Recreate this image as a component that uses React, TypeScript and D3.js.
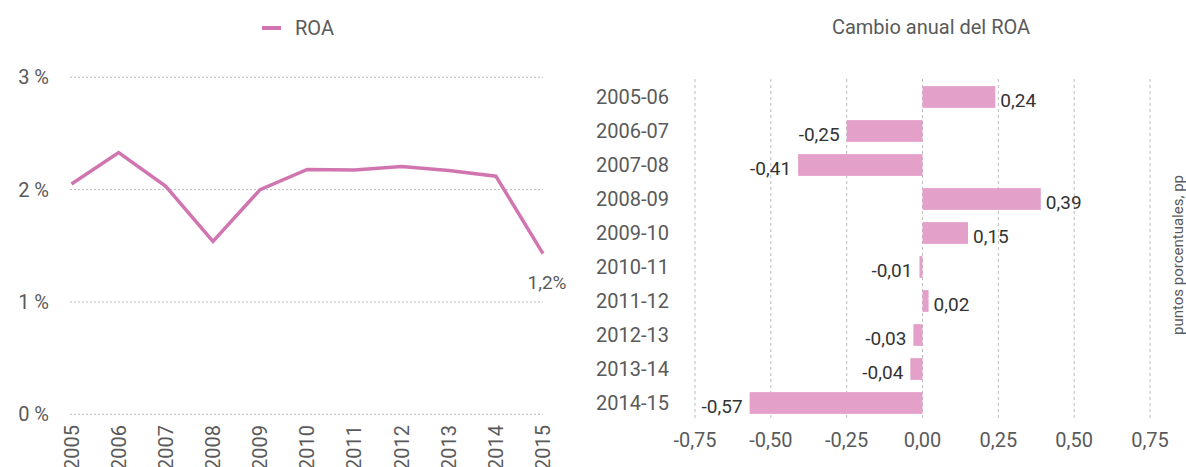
import React from "react";
import * as d3 from "d3";

const years = ["2005", "2006", "2007", "2008", "2009", "2010", "2011", "2012", "2013", "2014", "2015"];
const roa = [2.05, 2.33, 2.03, 1.54, 2.0, 2.18, 2.175, 2.205, 2.17, 2.12, 1.43];
const yTicks = [0, 1, 2, 3];
const lastLabel = "1,2%";

const periods = ["2005-06", "2006-07", "2007-08", "2008-09", "2009-10", "2010-11", "2011-12", "2012-13", "2013-14", "2014-15"];
const changes = [0.24, -0.25, -0.41, 0.39, 0.15, -0.01, 0.02, -0.03, -0.04, -0.57];
const xTicks = [-0.75, -0.5, -0.25, 0, 0.25, 0.5, 0.75];

const FONT = "Roboto, 'DejaVu Sans', sans-serif";
const LINE = "#d175b0";
const BAR = "#e3a0c8";
const GREY = "#5a5a5a";

const fmt = (v: number, d: number) => {
  const s = Math.abs(v).toFixed(d).replace(".", ",");
  return (v < 0 ? "-" : "") + s;
};

export default function App() {
  const xL = d3.scalePoint<string>().domain(years).range([71.5, 543]);
  const yL = d3.scaleLinear().domain([0, 3]).range([414.3, 77.3]);
  const line = d3
    .line<number>()
    .x((_, i) => xL(years[i]) as number)
    .y((d) => yL(d));

  const xR = d3.scaleLinear().domain([-0.75, 0.75]).range([695, 1150]);
  const yR = d3.scaleBand<string>().domain(periods).range([80, 420]).paddingInner(0.36).paddingOuter(0.18);

  return (
    <svg
      width={1186}
      height={467}
      style={{ position: "absolute", left: 0, top: 0, background: "#fff" }}
      fontFamily={FONT}
    >
      {/* Left chart legend */}
      <line x1={262} x2={281} y1={28} y2={28} stroke={LINE} strokeWidth={4} />
      <text x={295} y={28} dominantBaseline="central" fontSize={20} fill={GREY}>
        ROA
      </text>

      {/* Left gridlines */}
      {yTicks.map((t) => (
        <g key={t}>
          <line x1={70} x2={543} y1={yL(t)} y2={yL(t)} stroke="#bbb" strokeWidth={1} strokeDasharray="2,2" />
          <text x={49} y={yL(t)} textAnchor="end" dominantBaseline="central" fontSize={20} fill={GREY}>
            {t} %
          </text>
        </g>
      ))}
      {years.map((y) => (
        <text
          key={y}
          transform={`translate(${xL(y)},425) rotate(-90)`}
          textAnchor="end"
          dominantBaseline="central"
          fontSize={20}
          fill={GREY}
        >
          {y}
        </text>
      ))}
      <path d={line(roa) || ""} fill="none" stroke={LINE} strokeWidth={3.5} strokeLinejoin="miter" />
      <text
        x={(xL(years[years.length - 1]) as number) + 4}
        y={282}
        textAnchor="middle"
        dominantBaseline="central"
        fontSize={19}
        fill={GREY}
      >
        {lastLabel}
      </text>

      {/* Right chart */}
      <text x={931} y={27} textAnchor="middle" dominantBaseline="central" fontSize={20} fill={GREY}>
        Cambio anual del ROA
      </text>
      {xTicks.map((t) => (
        <g key={t}>
          <line x1={xR(t)} x2={xR(t)} y1={79} y2={420} stroke="#bbb" strokeWidth={1} strokeDasharray="3,3" />
          <text x={xR(t)} y={440} textAnchor="middle" dominantBaseline="central" fontSize={20} fill={GREY}>
            {fmt(t, 2)}
          </text>
        </g>
      ))}
      {periods.map((p, i) => {
        const v = changes[i];
        const y0 = yR(p) as number;
        const h = yR.bandwidth();
        const x0 = Math.min(xR(0), xR(v));
        const w = Math.abs(xR(v) - xR(0));
        return (
          <g key={p}>
            <text x={669} y={y0 + h / 2} textAnchor="end" dominantBaseline="central" fontSize={20} fill={GREY}>
              {p}
            </text>
            <rect x={x0} y={y0} width={w} height={h} fill={BAR} />
            <text
              x={v >= 0 ? xR(v) + 5 : xR(v) - 7}
              y={y0 + h / 2 + 3}
              textAnchor={v >= 0 ? "start" : "end"}
              dominantBaseline="central"
              fontSize={19}
              fill="#333"
            >
              {fmt(v, 2)}
            </text>
          </g>
        );
      })}
      <text
        transform="translate(1178,255) rotate(-90)"
        textAnchor="middle"
        dominantBaseline="central"
        fontSize={15}
        fill={GREY}
      >
        puntos porcentuales, pp
      </text>
    </svg>
  );
}
